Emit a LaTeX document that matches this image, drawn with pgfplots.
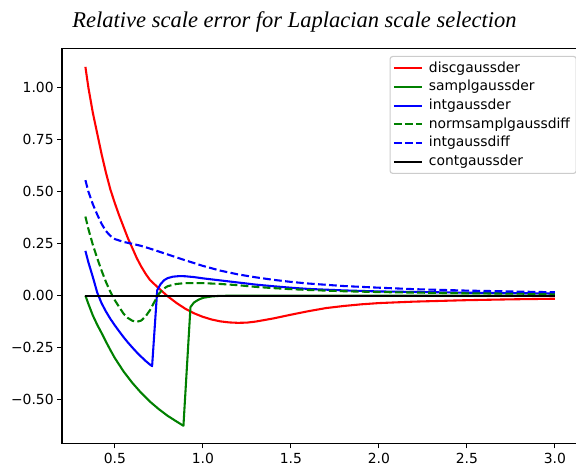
\documentclass[border=0pt]{standalone}
\usepackage{fontspec}
\setmainfont{DejaVu Sans}
\newfontfamily\titlefont{Liberation Serif}
\usepackage{pgfplots}
\pgfplotsset{compat=1.18}
\definecolor{mplgreen}{rgb}{0,0.5,0}
\begin{document}
\begin{tikzpicture}
\useasboundingbox (0,0) rectangle (414.72pt,335.52pt);
\node[anchor=base, font=\titlefont\itshape\fontsize{16.2}{18}\selectfont] at (212pt,316.0pt) {Relative scale error for Laplacian scale selection};
\begin{axis}[
  at={(44.64pt,16.2pt)}, anchor=south west,
  scale only axis, width=371.7pt, height=284.1pt,
  xmin=0.2, xmax=3.1333, ymin=-0.71125, ymax=1.18625,
  axis line style={line width=0.8pt, black},
  tick align=outside, major tick length=3.5pt,
  every tick/.style={black, line width=0.8pt},
  xtick={0.5,1.0,1.5,2.0,2.5,3.0},
  xticklabels={0.5,1.0,1.5,2.0,2.5,3.0},
  ytick={-0.5,-0.25,0,0.25,0.5,0.75,1.0},
  yticklabels={−0.50,−0.25,0.00,0.25,0.50,0.75,1.00},
  yticklabel style={xshift=1pt},
  xtick pos=bottom, ytick pos=left,
  ticklabel style={font=\fontsize{10}{12}\selectfont},
  legend cell align=left,
  legend style={
    at={(0.9865,0.9824)}, anchor=north east, xshift=4pt,
    draw=black!20, line width=0.8pt, rounded corners=2pt,
    fill=white, fill opacity=0.8, text opacity=1,
    font=\fontsize{10}{12}\selectfont,
    inner xsep=2pt, inner ysep=1.8pt, row sep=0pt, column sep=2pt,
    nodes={inner ysep=1pt, inner xsep=2.5pt, text height=8.44pt, text depth=3pt},
  },
  legend image code/.code={\draw[#1] (0pt,0pt) -- (20pt,0pt);},
  every axis plot/.append style={line width=1.5pt, line join=round},
]
\addplot[red] coordinates {
(0.333,1.10) (0.35,1.00) (0.375,0.88) (0.40,0.78) (0.425,0.68) (0.45,0.59)
(0.475,0.51) (0.50,0.445) (0.525,0.385) (0.55,0.33) (0.575,0.275) (0.60,0.228)
(0.625,0.18) (0.65,0.14) (0.675,0.105) (0.70,0.075) (0.75,0.035) (0.80,-0.003)
(0.85,-0.035) (0.9,-0.063) (0.95,-0.085) (1.0,-0.102) (1.05,-0.115) (1.1,-0.124)
(1.15,-0.129) (1.2,-0.131) (1.25,-0.13) (1.3,-0.125) (1.4,-0.11) (1.5,-0.092)
(1.6,-0.075) (1.7,-0.06) (1.8,-0.05) (1.9,-0.042) (2.0,-0.036) (2.2,-0.029)
(2.5,-0.022) (2.75,-0.018) (3.0,-0.015)
};
\addlegendentry{discgaussder}
\addplot[mplgreen] coordinates {
(0.333,0) (0.35,-0.04) (0.375,-0.095) (0.4,-0.14) (0.425,-0.18) (0.45,-0.222)
(0.475,-0.262) (0.5,-0.3) (0.55,-0.365) (0.6,-0.42) (0.65,-0.468) (0.7,-0.51)
(0.75,-0.546) (0.8,-0.578) (0.85,-0.605) (0.89,-0.626) (0.93,-0.055) (0.95,-0.033)
(0.975,-0.02) (1.0,-0.011) (1.05,-0.004) (1.1,-0.001) (1.5,0.0) (3.0,0.0)
};
\addlegendentry{samplgaussder}
\addplot[blue] coordinates {
(0.333,0.215) (0.35,0.16) (0.375,0.09) (0.4,0.015) (0.425,-0.037) (0.45,-0.077)
(0.475,-0.112) (0.5,-0.143) (0.525,-0.172) (0.55,-0.2) (0.575,-0.226) (0.6,-0.25)
(0.625,-0.273) (0.65,-0.294) (0.675,-0.314) (0.7,-0.332) (0.712,-0.339)
(0.741,0.026) (0.76,0.055) (0.78,0.074) (0.8,0.084) (0.83,0.091) (0.87,0.094)
(0.9,0.093) (0.95,0.089) (1.0,0.083) (1.1,0.073) (1.2,0.063) (1.3,0.053)
(1.4,0.045) (1.5,0.038) (1.6,0.032) (1.8,0.025) (2.0,0.02) (2.5,0.014) (3.0,0.01)
};
\addlegendentry{intgaussder}
\addplot[mplgreen, dash pattern=on 5.55pt off 2.4pt] coordinates {
(0.333,0.38) (0.35,0.32) (0.375,0.245) (0.4,0.18) (0.425,0.12) (0.45,0.065)
(0.475,0.018) (0.5,-0.022) (0.525,-0.055) (0.55,-0.087) (0.575,-0.108) (0.6,-0.121)
(0.625,-0.126) (0.65,-0.12) (0.675,-0.1) (0.7,-0.07) (0.725,-0.03) (0.75,0.008)
(0.775,0.032) (0.8,0.045) (0.85,0.056) (0.9,0.06) (1.0,0.06) (1.1,0.056)
(1.2,0.05) (1.3,0.042) (1.4,0.036) (1.5,0.031) (1.6,0.027) (1.8,0.021)
(2.0,0.017) (2.5,0.011) (3.0,0.008)
};
\addlegendentry{normsamplgaussdiff}
\addplot[blue, dash pattern=on 5.55pt off 2.4pt] coordinates {
(0.333,0.555) (0.35,0.50) (0.375,0.44) (0.4,0.39) (0.425,0.345) (0.45,0.31)
(0.475,0.287) (0.5,0.272) (0.55,0.258) (0.6,0.249) (0.65,0.239) (0.7,0.226)
(0.75,0.212) (0.8,0.198) (0.9,0.17) (1.0,0.143) (1.1,0.12) (1.2,0.102)
(1.3,0.088) (1.4,0.076) (1.5,0.066) (1.6,0.058) (1.8,0.046) (2.0,0.038)
(2.2,0.031) (2.5,0.024) (3.0,0.016)
};
\addlegendentry{intgaussdiff}
\addplot[black] coordinates {(0.333,0) (1.0,0) (2.0,0) (3.0,0)};
\addlegendentry{contgaussder}
\end{axis}
\end{tikzpicture}
\end{document}
